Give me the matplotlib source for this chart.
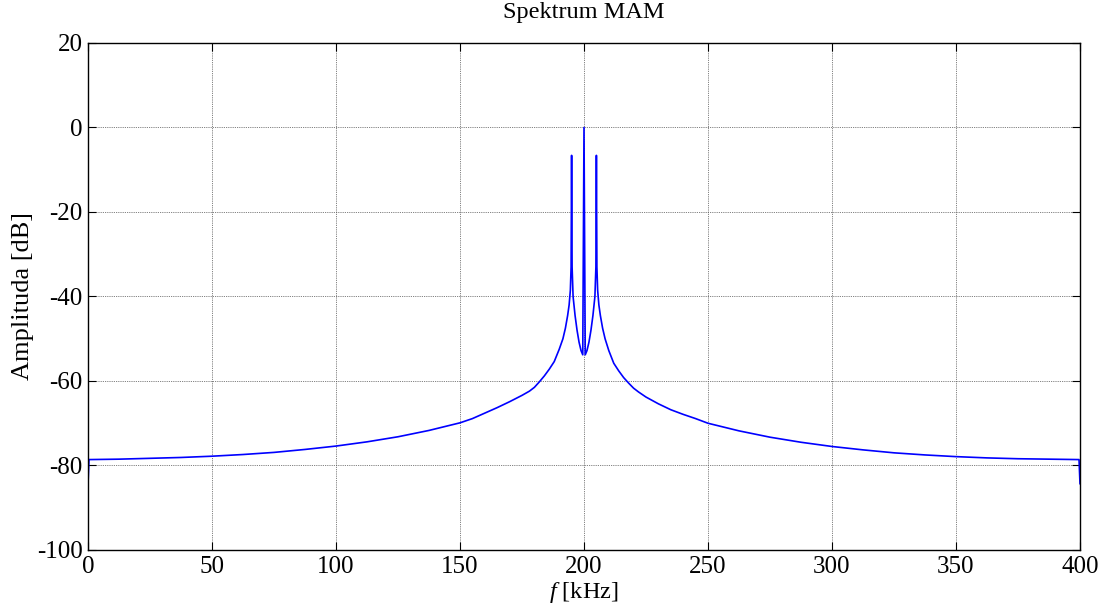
import matplotlib
matplotlib.use("Agg")
import matplotlib.pyplot as plt

# Frequency axis [kHz] and amplitude [dB]
freq_khz = [0.0, 0.4, 12.5, 25, 37.5, 50, 62.5, 75, 87.5, 100, 112.5, 125,
            137.5, 150, 155, 160, 165, 170, 175, 178, 180, 182, 184, 186, 188,
            190, 191.5, 192.5, 193.4, 194.0, 194.5, 194.8, 195.0, 195.2, 195.6,
            196.4, 197.2, 198.0, 198.8, 199.5, 200.0, 200.5, 201.2, 202.0,
            202.8, 203.6, 204.4, 204.8, 205.0, 205.2, 205.5, 206.0, 206.6,
            207.5, 208.5, 210, 212, 214, 216, 218, 220, 222, 225, 230, 235,
            240, 245, 250, 262.5, 275, 287.5, 300, 312.5, 325, 337.5, 350,
            362.5, 375, 387.5, 399.6, 400.0]
amp_db = [-84.5, -78.6, -78.5, -78.3, -78.1, -77.8, -77.4, -76.9, -76.2, -75.4,
          -74.4, -73.2, -71.7, -69.9, -68.9, -67.6, -66.3, -64.9, -63.4, -62.4,
          -61.5, -60.2, -58.8, -57.2, -55.4, -52.5, -50.0, -47.5, -44.5, -42.0,
          -38.5, -33.0, -6.6, -33.0, -40.0, -44.5, -48.0, -50.8, -52.8, -53.8,
          0.0, -53.8, -52.8, -50.8, -48.0, -44.5, -40.0, -33.0, -6.6, -33.0,
          -38.5, -42.0, -44.5, -47.5, -50.0, -52.8, -55.8, -57.6, -59.2, -60.5,
          -61.7, -62.6, -63.8, -65.4, -66.8, -67.9, -68.9, -70.0, -71.8, -73.3,
          -74.5, -75.5, -76.3, -77.0, -77.5, -77.9, -78.2, -78.4, -78.5, -78.6,
          -84.3]

title_text = "Spektrum MAM"
xlabel_text = "$f$ [kHz]"
ylabel_text = "Amplituda [dB]"
xticks = [0, 50, 100, 150, 200, 250, 300, 350, 400]
yticks = [-100, -80, -60, -40, -20, 0, 20]

plt.rcParams['font.family'] = ['Liberation Serif', 'DejaVu Serif']
plt.rcParams['mathtext.fontset'] = 'custom'
plt.rcParams['mathtext.it'] = 'Liberation Serif:italic'
plt.rcParams['mathtext.rm'] = 'Liberation Serif'
plt.rcParams['axes.unicode_minus'] = False

fig = plt.figure(figsize=(11.08, 6.07), dpi=100)
ax = fig.add_axes([88 / 1108, 57 / 607, (1080 - 88) / 1108, (550 - 43) / 607])

ax.plot(freq_khz, amp_db, color=(0, 0, 1), lw=1.2)

ax.set_xlim(0, 400)
ax.set_ylim(-100, 20)
ax.set_xticks(xticks)
ax.set_yticks(yticks)
ax.set_xticklabels([str(t) for t in xticks])
ax.set_yticklabels([str(t) for t in yticks])

ax.grid(True, color='#555555', linestyle=(0, (1, 1.2)), linewidth=0.6)
ax.tick_params(direction='in', length=6, width=0.8, top=True, right=True,
               labelsize=18, pad=4, colors='black')
for s in ax.spines.values():
    s.set_linewidth(1.0)

ax.set_title(title_text, fontsize=17.5, pad=18)
ax.set_xlabel(xlabel_text, fontsize=17.5, labelpad=2)
ax.set_ylabel(ylabel_text, fontsize=19, labelpad=2)

fig.savefig("out.png", dpi=100)
